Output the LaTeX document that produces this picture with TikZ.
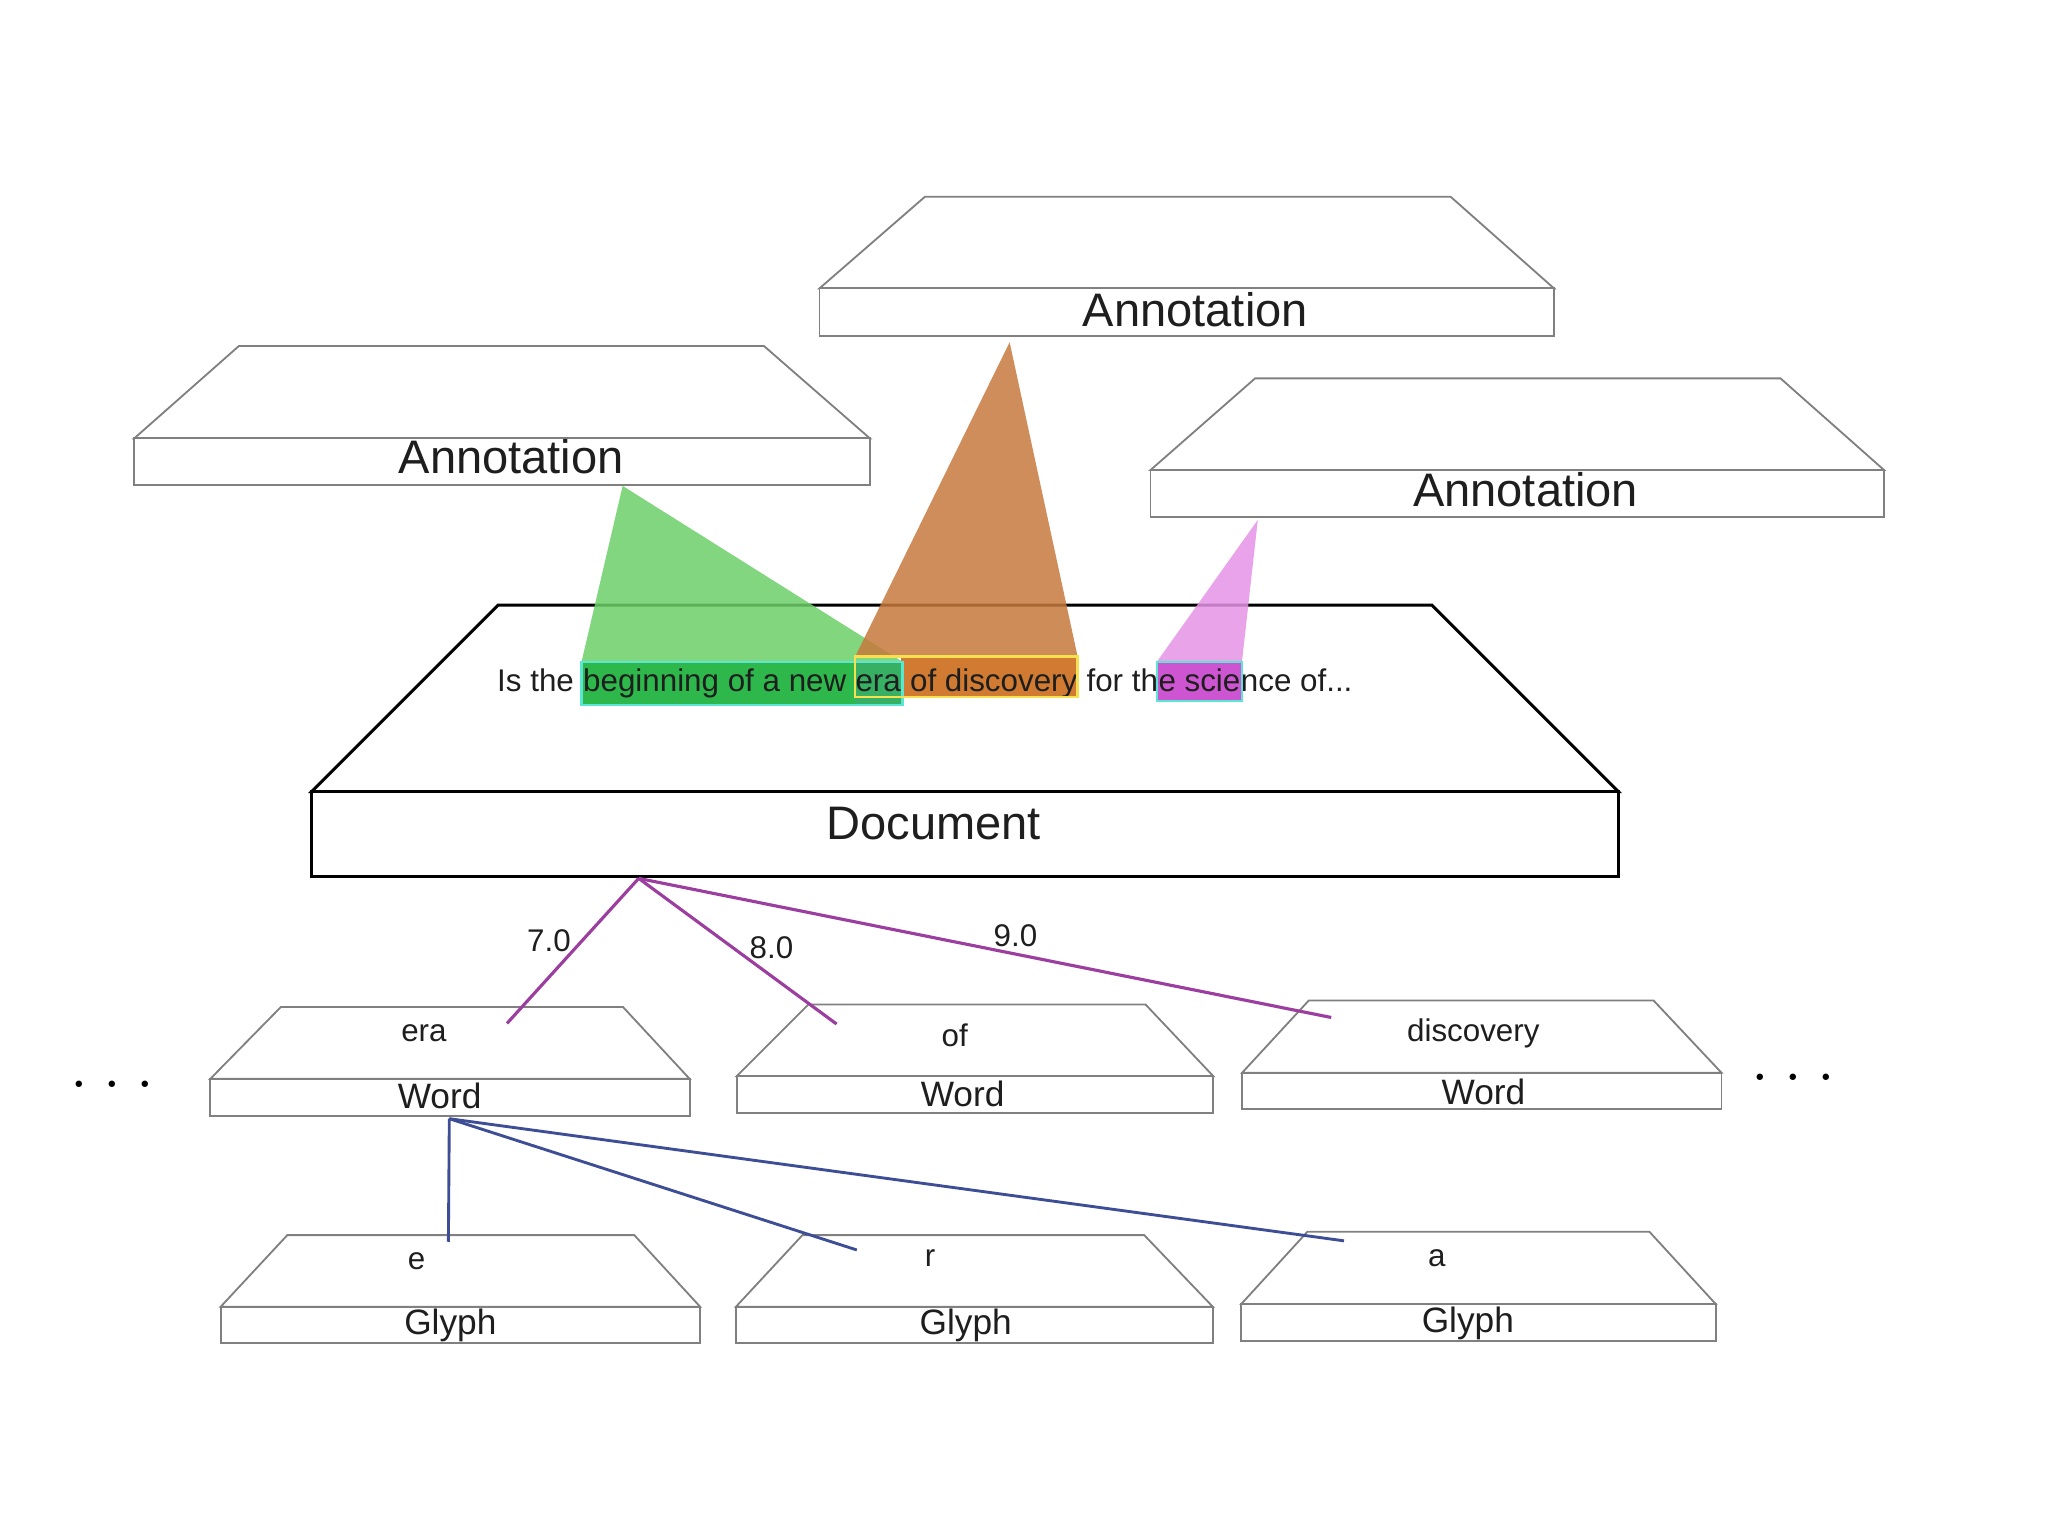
\documentclass[tikz,border=0pt]{standalone}
\usepackage{fontspec}
\setmainfont{Liberation Sans}
\newfontfamily\dotfont{Latin Modern Roman}
\usetikzlibrary{calc}
\definecolor{boxgray}{RGB}{128,128,128}
\definecolor{txt}{RGB}{30,30,30}
\definecolor{trigreen}{RGB}{108,207,104}
\definecolor{triorange}{RGB}{198,121,61}
\definecolor{tripink}{RGB}{229,147,230}
\definecolor{hlgreen}{RGB}{46,184,76}
\definecolor{hlera}{RGB}{56,176,100}
\definecolor{hlorange}{RGB}{208,122,50}
\definecolor{hlpink}{RGB}{205,85,210}
\definecolor{cyanline}{RGB}{90,230,210}
\definecolor{yellowline}{RGB}{245,225,80}
\definecolor{purp}{RGB}{155,62,160}
\definecolor{navyline}{RGB}{62,78,150}
\pgfdeclarelayer{back}
\pgfdeclarelayer{hl}
\pgfsetlayers{back,hl,main}
% #1 name, #2 style, #3 top y, #4 top x1, #5 top x2, #6 base y, #7 base x1, #8 base x2, #9 bottom y
\newcommand\slabbox[9]{%
  \filldraw[#2, fill=white] (#7,#6) -- (#4,#3) -- (#5,#3) -- (#8,#6) -- cycle;
  \node[#2, fill=white, anchor=north west, inner sep=0pt, outer sep=0pt,
        minimum width={(#8-#7)*1pt}, minimum height={(#9-#6)*1pt}] (#1) at (#7,#6) {};
}
\begin{document}
\begin{tikzpicture}[x=1pt,y=-1pt,
  slab/.style={draw=boxgray, line width=1.4pt, line join=miter},
  docslab/.style={draw=black, line width=2.3pt, line join=miter},
  big/.style={font=\fontsize{36}{40}\selectfont, text=txt, inner sep=0pt, anchor=base},
  mid/.style={font=\fontsize{27}{30}\selectfont, text=txt, inner sep=0pt, anchor=base},
  small/.style={font=\fontsize{24}{28}\selectfont, text=txt, inner sep=0pt, anchor=base},
  sent/.style={font=\fontsize{24}{28}\selectfont\frenchspacing, text=txt, inner sep=0pt, anchor=base west},
  dots/.style={font=\dotfont\fontsize{60}{64}\selectfont, text=black, inner sep=0pt, anchor=base},
  purpline/.style={draw=purp, line width=2.4pt},
  navyl/.style={draw=navyline, line width=2.2pt},
  beam/.style={opacity=0.85},
  cyanbox/.style={draw=cyanline, line width=1.8pt},
  yellowbox/.style={draw=yellowline, line width=1.8pt}]
\useasboundingbox (0,0) rectangle (1568,1176);

% ---------- slabs on the back layer ----------
\begin{pgfonlayer}{back}
  \slabbox{a2}{slab}{150.6}{708.2}{1110.6}{220.8}{627.4}{1189.8}{257.3}
  \slabbox{a1}{slab}{264.9}{182.9}{584.9}{335.6}{102.8}{666}{371.3}
  \slabbox{a3}{slab}{289.7}{960.9}{1363.2}{359.9}{880.8}{1442.5}{395.6}
  \slabbox{doc}{docslab}{463.2}{381.5}{1096.2}{606}{238.6}{1239}{671.2}
\end{pgfonlayer}

% ---------- labels of the annotation and document slabs ----------
\node[big] (a2t) at (915.2,250.2) {Annotation};
\node[big] (a1t) at (391.3,362.5) {Annotation};
\node[big] (a3t) at (1168,388.1) {Annotation};
\node[big] (doct) at (715,643) {Document};

% ---------- sentence ----------
\node[sent] (s1) at (380.5,529.6) {Is the\ \null};
\node[sent] (s2) at (s1.base east) {beginning of a new\ \null};
\node[sent] (s3) at (s2.base east) {era};
\node[sent] (s4) at (s3.base east) {\null\ of discovery};
\node[sent] (s5) at (s4.base east) {\null\ for th};
\node[sent] (s6) at (s5.base east) {e scie};
\node[sent] (s7) at (s6.base east) {nce of...};

% apexes of the beams
\coordinate (ga) at (476.7,372);
\coordinate (oa) at (773,262);
\coordinate (pa) at (963,398);

% ---------- beams and highlights ----------
\begin{pgfonlayer}{hl}
  \fill[trigreen, beam] (ga) -- ($(s2.base west)+(-1,-23)$) -- ($(s3.base east)+(1,-23)$) -- cycle;
  \fill[triorange, beam] (oa) -- ($(s3.base west)+(0,-27)$) -- ($(s4.base east)+(0,-27)$) -- cycle;
  \fill[tripink, beam] (pa) -- ($(s6.base west)+(-1,-23)$) -- ($(s6.base east)+(1,-23)$) -- cycle;
  \fill[hlgreen] ($(s2.base west)+(-1,-23)$) rectangle ($(s3.base west)+(0,10)$);
  \fill[hlera] ($(s3.base west)+(0,-23)$) rectangle ($(s3.base east)+(1,10)$);
  \fill[hlorange] ($(s4.base west)+(0,-27)$) rectangle ($(s4.base east)+(0,4)$);
  \fill[hlpink] ($(s6.base west)+(-1,-23)$) rectangle ($(s6.base east)+(1,7)$);
\end{pgfonlayer}
\draw[cyanbox] ($(s2.base west)+(-1,-23)$) rectangle ($(s3.base east)+(1,10)$);
\draw[yellowbox] ($(s3.base west)+(0,-27)$) rectangle ($(s4.base east)+(0,4)$);
\draw[cyanbox] ($(s6.base west)+(-1,-23)$) rectangle ($(s6.base east)+(1,7)$);

% ---------- word slabs ----------
\slabbox{w1}{slab}{771}{215}{477}{826}{161}{528}{854.4}
\slabbox{w2}{slab}{769}{619}{877}{824}{564}{929}{852}
\slabbox{w3}{slab}{766}{1002}{1266}{821.3}{951}{1318}{849.3}
\node[small] (w1t) at (324.6,797) {era};
\node[mid] (w1l) at (336.6,848.5) {Word};
\node[small] (w2t) at (731,801) {of};
\node[mid] (w2l) at (737,847) {Word};
\node[small] (w3t) at (1128,797) {discovery};
\node[mid] (w3l) at (1135.8,845.5) {Word};

% ---------- glyph slabs ----------
\slabbox{g1}{slab}{945.6}{220}{485.6}{1000.4}{169}{536}{1028.5}
\slabbox{g2}{slab}{945.6}{614.4}{876}{1000.4}{563.5}{928.5}{1028.5}
\slabbox{g3}{slab}{943}{1001}{1262.8}{998.4}{950.3}{1313.6}{1026.5}
\node[small] (g1t) at (319,972) {e};
\node[mid] (g1l) at (344.8,1022) {Glyph};
\node[small] (g2t) at (712,970) {r};
\node[mid] (g2l) at (739.4,1022) {Glyph};
\node[small] (g3t) at (1100,970) {a};
\node[mid] (g3l) at (1123.8,1020) {Glyph};

% ---------- ellipses ----------
\node[dots] (ldots) at (86,832.6) {.\hspace{10pt}.\hspace{10pt}.};
\node[dots] (rdots) at (1373,827.6) {.\hspace{10pt}.\hspace{10pt}.};

% ---------- document -> words ----------
\coordinate (dout) at (489,672.5);
\coordinate (w1in) at (388.2,783.5);
\coordinate (w2in) at (640.5,784);
\coordinate (w3in) at (1019.2,779);
\draw[purpline] (dout) -- (w1in);
\draw[purpline] (dout) -- (w2in);
\draw[purpline] (dout) -- (w3in);
\node[small] (l7) at (420.3,728.3) {7.0};
\node[small] (l8) at (590.6,734) {8.0};
\node[small] (l9) at (777.5,724.6) {9.0};

% ---------- word -> glyphs ----------
\coordinate (wout) at (344,856.5);
\coordinate (g1in) at (343.3,950.7);
\coordinate (g2in) at (656,957);
\coordinate (g3in) at (1029,950);
\draw[navyl] (wout) -- (g1in);
\draw[navyl] (wout) -- (g2in);
\draw[navyl] (wout) -- (g3in);
\end{tikzpicture}
\end{document}
